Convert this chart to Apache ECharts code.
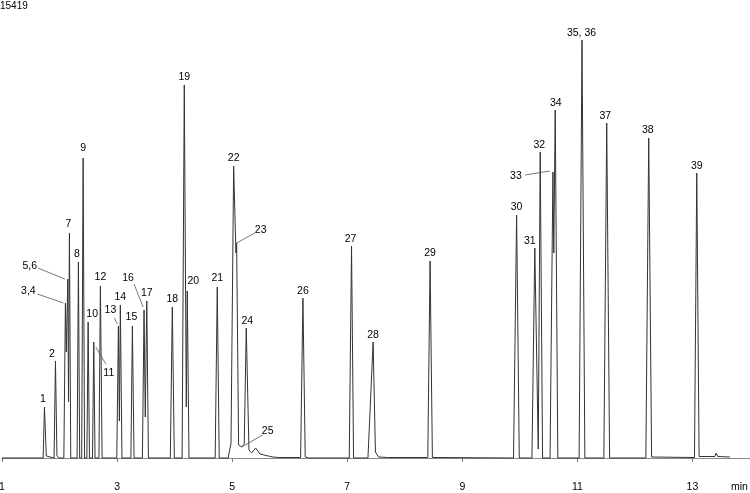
<!DOCTYPE html>
<html>
<head>
<meta charset="utf-8">
<script src="https://cdn.jsdelivr.net/npm/echarts@6/dist/echarts.min.js"></script>
<style>html,body{margin:0;padding:0;background:#fff;}#c{width:750px;height:493px;}</style>
</head>
<body>
<div id="c"></div>
<script>
// ---- data ----
const peakNames = ['1','2','3,4','5,6','7','8','9','10','11','12','13','14','15','16','17','18','19','20','21','22','23','24','25','26','27','28','29','30','31','32','33','34','35, 36','37','38','39'];
const peakTimes = [1.738,1.929,2.102,2.144,2.172,2.328,2.410,2.497,2.595,2.710,3.023,3.057,3.266,3.469,3.516,3.960,4.168,4.220,4.741,5.026,5.078,5.245,5.165,6.230,7.075,7.450,8.440,9.944,10.260,10.354,10.575,10.615,11.080,11.510,12.240,13.075];
const peakHeights = [51,97,155,179,225,196,300,136,116,172,132,153,132,148,157,151,373,167,171,292,215,130,11,160,212,116,197,243,210,306,286,348,418,335,320,285];
// baseline, feet and valleys of the trace [time, intensity]
const troughs = [
  [1.0,0],[1.715,0],[1.77,2],[1.80,0],
  [1.905,0],[1.955,2],[1.99,0],
  [2.075,0],[2.118,106],[2.156,56],[2.195,0],
  [2.305,0],[2.350,0],
  [2.385,0],[2.435,0],
  [2.475,0],[2.520,0],
  [2.573,0],[2.617,0],
  [2.685,0],[2.740,0],
  [2.995,0],[3.040,37],[3.085,0],
  [3.240,0],[3.295,0],
  [3.440,0],[3.490,41],[3.545,0],
  [3.925,0],[3.995,0],
  [4.130,0],[4.203,51],[4.250,0],
  [4.705,0],[4.775,0],
  [4.930,0],[4.980,15],[5.066,205],[5.112,13],[5.210,14],
  [5.292,8],[5.339,5],[5.408,10],[5.483,4],[5.627,2],[5.714,1],[5.800,0.5],
  [6.190,0.5],[6.270,1],[6.330,0],
  [7.035,0],[7.110,0],
  [7.360,0],[7.490,6],[7.545,1],[7.700,0.5],
  [8.400,0.5],[8.480,0.5],
  [9.890,0],[9.990,0],
  [10.210,0],[10.320,9],[10.395,0],
  [10.525,0],[10.590,205],[10.660,0],
  [11.030,0],[11.130,0],
  [11.460,0],[11.560,0],
  [12.190,0],[12.290,1],
  [13.035,0.5],[13.115,1.5],[13.390,1.5],[13.410,5],[13.440,1.5],[13.650,1]
];
const xTickValues = [1,3,5,7,9,11,13];
const maxLabel = '15419';

// ---- label layout (pixel offsets from the apex) ----
const labelOffsets = [[-1.5,-8],[-3.5,-7],[-37,-12],[-38,-13],[-1,-9],[-1.5,-8],[0,-10],[4,-8],[15,31],[0,-9],[-8,-16],[0,-8],[-1,-9],[-16,-32],[0,-8],[0,-8],[0,-8],[6,-10],[0,-9],[0,-8],[24,-13],[1,-7],[26,-16],[0,-7],[-1,-7],[0,-7],[0,-8],[0,-8],[-5,-7],[-1,-7],[-37,4],[0.5,-7],[-0.5,-7],[-1.5,-7],[-1,-7.5],[0,-7]];
const leaders = {
  '3,4':[-28,-9,-2,0], '5,6':[-30,-11,-3,0], '11':[12,22,2,5], '13':[-4,-8,-1,-2],
  '16':[-10,-26,-1,-3], '23':[18,-10,0,0], '25':[21,-12,0,0], '33':[-28,3,-3,-1]
};

const trace = troughs.concat(peakTimes.map((t,i)=>[t,peakHeights[i]])).sort((a,b)=>a[0]-b[0]);
const labelData = peakTimes.map((t,i)=>[t,peakHeights[i],i]);

const chart = echarts.init(document.getElementById('c'), null, {renderer:'canvas'});
const FONT = '"Liberation Sans", Arial, Helvetica, sans-serif';
chart.setOption({
  animation:false,
  backgroundColor:'#fff',
  grid:{left:2,right:0,top:0,bottom:29,containLabel:false,outerBoundsMode:'none'},
  xAxis:{
    type:'value', min:1, max:14, interval:2,
    axisLine:{show:true,lineStyle:{color:'#888',width:1}},
    axisTick:{show:true,length:4,lineStyle:{color:'#777'}},
    splitLine:{show:false},
    axisLabel:{
      margin:18, fontSize:10.5, color:'#000', fontFamily:FONT,
      formatter:v=> xTickValues.indexOf(v)>=0 ? String(v) : ''
    }
  },
  yAxis:{type:'value',min:-6,max:458,show:false,splitLine:{show:false}},
  graphic:[
    {type:'text',left:0,top:1,style:{text:maxLabel,font:'10px '+FONT,fill:'#000'}},
    {type:'text',left:731,top:482,style:{text:'min',font:'10.5px '+FONT,fill:'#000'}}
  ],
  series:[
    {type:'line',data:trace,showSymbol:false,symbol:'none',lineStyle:{color:'#333',width:1},silent:true,z:2},
    {type:'custom',data:labelData,clip:false,silent:true,z:3,
      renderItem:function(params,api){
        const i = params.dataIndex;
        const p = api.coord([api.value(0),api.value(1)]);
        const off = labelOffsets[i];
        const name = peakNames[i];
        const children = [{
          type:'text',
          style:{text:name,x:p[0]+off[0],y:p[1]+off[1],align:'center',verticalAlign:'middle',font:'10.5px '+FONT,fill:'#000'}
        }];
        const ld = leaders[name];
        if(ld){
          children.push({type:'line',shape:{x1:p[0]+ld[0],y1:p[1]+ld[1],x2:p[0]+ld[2],y2:p[1]+ld[3]},style:{stroke:'#555',lineWidth:0.8}});
        }
        return {type:'group',children:children};
      }
    }
  ]
});
</script>
</body>
</html>
